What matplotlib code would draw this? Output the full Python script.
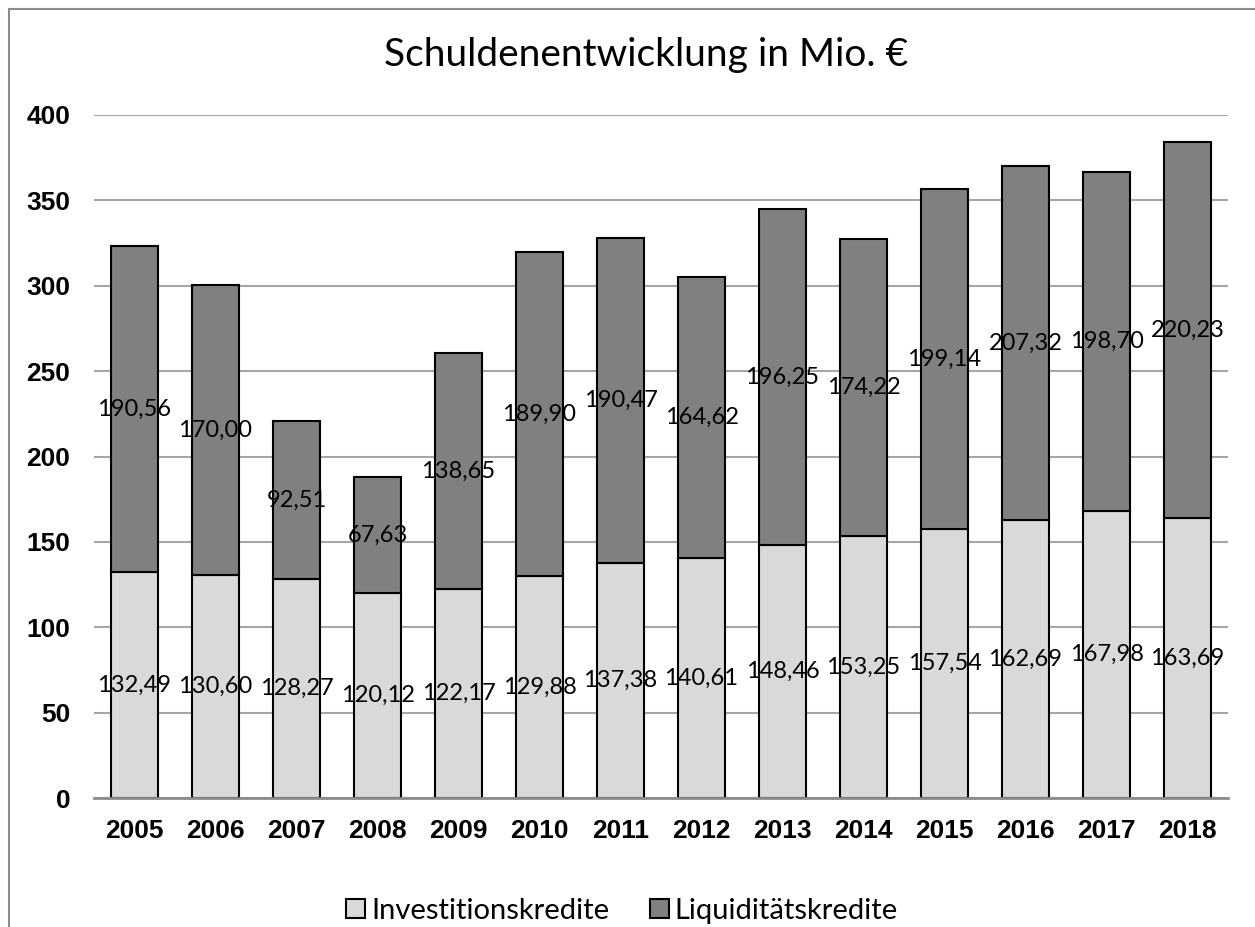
import matplotlib
matplotlib.use("Agg")
import matplotlib.pyplot as plt
import numpy as np
from matplotlib.patches import Rectangle

years = ["2005", "2006", "2007", "2008", "2009", "2010", "2011",
         "2012", "2013", "2014", "2015", "2016", "2017", "2018"]
investition = [132.49, 130.60, 128.27, 120.12, 122.17, 129.88, 137.38,
               140.61, 148.46, 153.25, 157.54, 162.69, 167.98, 163.69]
liquiditaet = [190.56, 170.00, 92.51, 67.63, 138.65, 189.90, 190.47,
               164.62, 196.25, 174.22, 199.14, 207.32, 198.70, 220.23]

label_font = "Lato"
tick_font = "Liberation Sans"

fig = plt.figure(figsize=(12.55, 9.27), dpi=100)
ax = fig.add_axes([94 / 1255, 1 - 798 / 927, 1134 / 1255, 683 / 927])

x = np.arange(len(years))
w = 0.58
b1 = ax.bar(x, investition, w, color="#d9d9d9", edgecolor="black", linewidth=1.5,
            label="Investitionskredite", zorder=3)
b2 = ax.bar(x, liquiditaet, w, bottom=investition, color="#808080", edgecolor="black",
            linewidth=1.5, label="Liquiditätskredite", zorder=3)

def fmt(v):
    return f"{v:.2f}".replace(".", ",")

for i in range(len(years)):
    ax.text(x[i], investition[i] / 2, fmt(investition[i]), ha="center", va="center",
            fontsize=17, family=label_font, zorder=4)
    ax.text(x[i], investition[i] + liquiditaet[i] / 2, fmt(liquiditaet[i]), ha="center",
            va="center", fontsize=17, family=label_font, zorder=4)

ax.set_xlim(-0.5, len(years) - 0.5)
ax.set_ylim(0, 400)
ax.set_yticks(range(0, 401, 50))
ax.set_xticks(x)
ax.set_xticklabels(years)
for lab in ax.get_xticklabels() + ax.get_yticklabels():
    lab.set_fontfamily(tick_font)
    lab.set_fontweight("bold")
    lab.set_fontsize(19)
ax.tick_params(axis="both", length=0)
ax.tick_params(axis="y", pad=17)
ax.tick_params(axis="x", pad=15)
ax.grid(axis="y", color="#a6a6a6", linewidth=1.5, zorder=0)
for s in ["top", "right", "left"]:
    ax.spines[s].set_visible(False)
ax.spines["bottom"].set_color("#8c8c8c")
ax.spines["bottom"].set_linewidth(2)
ax.spines["bottom"].set_zorder(5)

fig.text(646 / 1255, 1 - 55 / 927, "Schuldenentwicklung in Mio. €", ha="center",
         va="center", fontsize=28, family=label_font)

leg = fig.legend(handles=[b1, b2], loc="center", bbox_to_anchor=(622 / 1255, 1 - 911 / 927),
                 ncol=2, frameon=False, prop={"family": label_font, "size": 21},
                 handlelength=0.65, handleheight=0.65, handletextpad=0.2, columnspacing=1.4)

# outer chart border
fig.add_artist(Rectangle((9 / 1255, -0.1), 1.2, 1 - 9 / 927 + 0.1, transform=fig.transFigure,
                         fill=False, edgecolor="#8c8c8c", linewidth=1.5))

fig.savefig("out.png", dpi=100)
